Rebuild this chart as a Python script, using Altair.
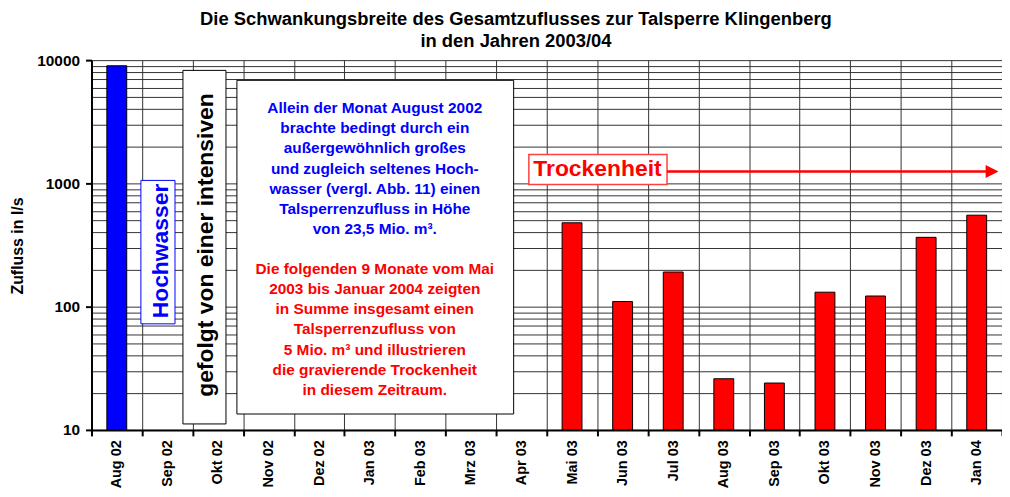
import altair as alt
import pandas as pd

# ---------------- data ----------------
months = ["Aug 02", "Sep 02", "Okt 02", "Nov 02", "Dez 02", "Jan 03", "Feb 03",
          "Mrz 03", "Apr 03", "Mai 03", "Jun 03", "Jul 03", "Aug 03", "Sep 03",
          "Okt 03", "Nov 03", "Dez 03", "Jan 04"]
zufluss = [9000, None, None, None, None, None, None, None, None,
           479, 110, 191, 26, 24, 131, 122, 365, 552]

y_grid_values = [10, 20, 30, 40, 50, 60, 70, 80, 90,
                 100, 200, 300, 400, 500, 600, 700, 800, 900,
                 1000, 2000, 3000, 4000, 5000, 6000, 7000, 8000, 9000, 10000]
y_label_values = [10, 100, 1000, 10000]

title_lines = ["Die Schwankungsbreite des Gesamtzuflusses zur Talsperre  Klingenberg",
               "in den Jahren 2003/04"]
y_title = "Zufluss in l/s"
blue_lines = ["Allein der Monat August 2002",
              "brachte bedingt durch ein",
              "außergewöhnlich großes",
              "und zugleich seltenes Hoch-",
              "wasser (vergl. Abb. 11) einen",
              "Talsperrenzufluss in Höhe",
              "von 23,5 Mio. m³."]
red_lines = ["Die folgenden 9 Monate vom Mai",
             "2003 bis Januar 2004 zeigten",
             "in Summe insgesamt einen",
             "Talsperrenzufluss von",
             "5 Mio. m³ und illustrieren",
             "die gravierende Trockenheit",
             "in diesem Zeitraum."]
hochwasser_text = "Hochwasser"
gefolgt_text = "gefolgt von einer intensiven"
trocken_text = "Trockenheit"

FONT = "Liberation Sans"

df = pd.DataFrame({"month": months, "value": zufluss}).dropna()
one = pd.DataFrame({"k": [0]})

W, H = 916, 372

x_enc = alt.X("month:N", sort=months,
              scale=alt.Scale(domain=months, paddingInner=0, paddingOuter=0),
              axis=alt.Axis(title=None, labelAngle=270, tickBand="extent", grid=True,
                            gridColor="#333333", gridWidth=1, gridOpacity=1,
                            domainColor="black", domainWidth=2,
                            tickColor="black", tickWidth=2, tickSize=6,
                            labelFont=FONT, labelFontSize=14.5, labelFontWeight="bold",
                            labelColor="black", labelPadding=4, labelAlign="right",
                            labelBaseline="middle"))

test = "indexof([10, 100, 1000, 10000], datum.value) >= 0"
y_enc = alt.Y("value:Q",
              scale=alt.Scale(type="log", domain=[10, 10000], nice=False),
              axis=alt.Axis(title=None, values=y_grid_values, format="d",
                            labelExpr=f"{test} ? datum.label : ''",
                            grid=True, gridColor="#333333", gridWidth=1, gridOpacity=1,
                            domainColor="black", domainWidth=2,
                            tickColor="black", tickWidth=2,
                            tickSize={"condition": {"test": test, "value": 6}, "value": 0},
                            labelFont=FONT, labelFontSize=15.5, labelFontWeight="bold",
                            labelColor="black", labelPadding=6, labelOverlap=False))

bars = alt.Chart(df).mark_bar(width=20, stroke="black", strokeWidth=1).encode(
    x=x_enc,
    y=y_enc,
    y2=alt.datum(10),
    color=alt.condition(alt.datum.month == "Aug 02", alt.value("#0000FF"), alt.value("#FF0000")),
)


def box(x1, x2, y1, y2, stroke, sw=1.0):
    return alt.Chart(one).mark_rect(fill="white", stroke=stroke, strokeWidth=sw).encode(
        x=alt.value(x1), x2=alt.value(x2), y=alt.value(y1), y2=alt.value(y2))


def txt(text, x, y, color, size, angle=0, baseline="alphabetic", line_height=None):
    kw = dict(font=FONT, fontSize=size, fontWeight="bold", color=color,
              align="center", baseline=baseline)
    if angle:
        kw["angle"] = angle
    if line_height:
        kw["lineHeight"] = line_height
    return alt.Chart(one).mark_text(**kw).encode(
        x=alt.value(x), y=alt.value(y), text=alt.value(text))


layers = [
    bars,
    box(49.7, 84, 121, 265.3, "#0000FF", 1),
    txt(hochwasser_text, 69.7, 192, "#0000FF", 23, angle=270, baseline="middle"),
    box(92, 135.3, 10.3, 366, "black", 1),
    txt(gefolgt_text, 115.3, 186, "black", 23, angle=270, baseline="middle"),
    box(146.3, 424.7, 20.3, 356, "black", 1),
    txt(blue_lines, 285, 53, "#0000FF", 15.5, line_height=20.4),
    txt(red_lines, 285, 214.7, "#FF0000", 15.5, line_height=20.4),
    box(440, 579, 95, 125, "#FF4040", 1.5),
    txt(trocken_text, 509, 117, "#FF0000", 23),
    alt.Chart(one).mark_rule(color="#FF0000", strokeWidth=2.5).encode(
        x=alt.value(579), x2=alt.value(903), y=alt.value(112)),
    alt.Chart(one).mark_point(shape="M-1,-1L1,0L-1,1Z", size=169, filled=True,
                              color="#FF0000", opacity=1).encode(
        x=alt.value(906), y=alt.value(112)),
    txt(title_lines, 427, -35, "black", 18.5, line_height=22),
    txt(y_title, -74, 187, "black", 16, angle=270, baseline="middle"),
]

chart = alt.layer(*layers).properties(
    width=W, height=H,
    autosize="none",
    padding={"left": 84, "top": 51, "right": 0, "bottom": 58},
    background="white",
).configure_view(stroke=None)

chart.save("out.html", embed_options={"renderer": "svg", "actions": False})
